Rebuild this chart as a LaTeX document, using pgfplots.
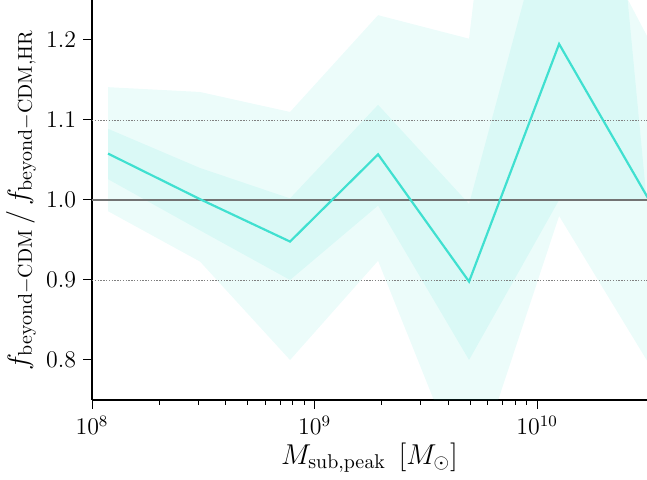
\documentclass[border=0pt]{standalone}
\usepackage{pgfplots}
\pgfplotsset{compat=1.18}
\definecolor{turq}{RGB}{64,224,208}
\begin{document}
\begin{tikzpicture}
\begin{axis}[
  scale only axis, width=277.5bp, height=200bp,
  xmode=log, xmin=1e8, xmax=3.12e10, ymin=0.75, ymax=1.25,
  axis x line*=bottom, axis y line*=left,
  axis line style={line width=1bp, -},
  ytick={0.8,0.9,1.0,1.1,1.2},
  yticklabel style={/pgf/number format/.cd, fixed, fixed zerofill, precision=1},
  xtick={1e8,1e9,1e10},
  tick align=outside,
  major tick length=4.5bp, minor tick length=2.4bp,
  every tick/.style={black, line width=0.5bp},
  tick label style={font=\fontsize{11.5}{13}\selectfont},
  every axis x label/.style={at={(axis description cs:0.5,0)}, yshift=-29bp, anchor=center},
  every axis y label/.style={at={(axis description cs:0,0.5)}, xshift=-35.5bp, rotate=90, anchor=center},
  label style={font=\fontsize{14}{16}\selectfont},
  xlabel={$M_{\mathrm{sub,peak}}\;\left[M_\odot\right]$},
  ylabel={$f_{\mathrm{beyond-CDM}}\,/\,f_{\mathrm{beyond-CDM,HR}}$},
  clip=true,
]
% wide band
\addplot[draw=none, fill=turq, fill opacity=0.1] coordinates {
 (1.18e8,1.141) (3.058e8,1.135) (7.762e8,1.110) (1.930e9,1.231) (4.947e9,1.2016)
 (1.256e10,2.15) (3.187e10,0.968)
 (3.187e10,0.795) (1.256e10,0.98) (4.947e9,0.64) (1.930e9,0.924) (7.762e8,0.80)
 (3.058e8,0.923) (1.18e8,0.986)} -- cycle;
% narrow band
\addplot[draw=none, fill=turq, fill opacity=0.1] coordinates {
 (1.18e8,1.089) (3.058e8,1.040) (7.762e8,1.002) (1.930e9,1.119) (4.947e9,0.995)
 (1.256e10,1.414) (3.187e10,1.20)
 (3.187e10,1.0) (1.256e10,1.0) (4.947e9,0.80) (1.930e9,0.993) (7.762e8,0.90)
 (3.058e8,0.962) (1.18e8,1.026)} -- cycle;
% reference lines
\addplot[black!55, line width=1bp] coordinates {(1e8,1.0) (3.12e10,1.0)};
\addplot[black!50, line width=0.45bp, dash pattern=on 0.7bp off 0.7bp] coordinates {(1e8,1.1) (3.12e10,1.1)};
\addplot[black!50, line width=0.45bp, dash pattern=on 0.7bp off 0.7bp] coordinates {(1e8,0.9) (3.12e10,0.9)};
% ratio
\addplot[turq, line width=1.1bp] coordinates {
 (1.18e8,1.058) (3.058e8,1.001) (7.762e8,0.948) (1.930e9,1.057) (4.947e9,0.898)
 (1.256e10,1.195) (3.187e10,1.0)};
\coordinate (BL) at (rel axis cs:0,0);
\coordinate (TR) at (rel axis cs:1,1);
\end{axis}
\pgfresetboundingbox
\path[use as bounding box] ([xshift=-46bp,yshift=-40bp]BL) rectangle (TR);
\end{tikzpicture}
\end{document}
